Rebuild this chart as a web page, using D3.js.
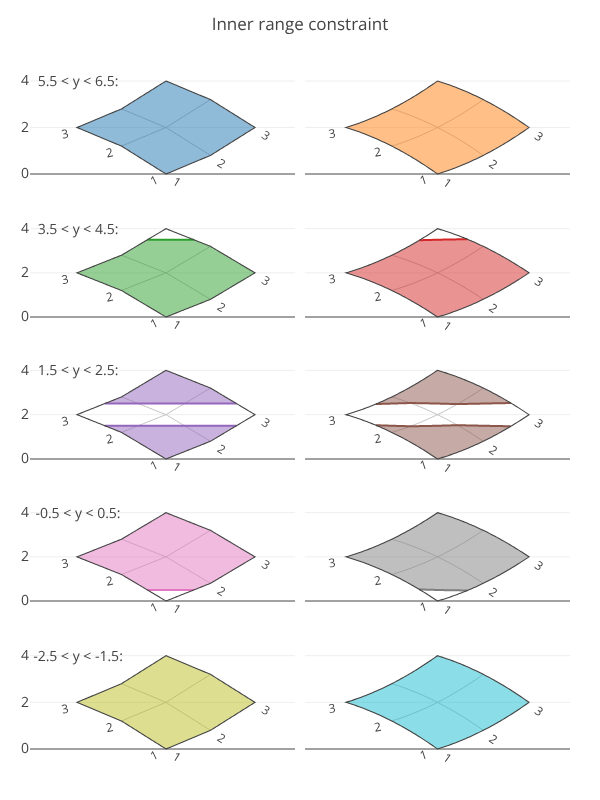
<!DOCTYPE html>
<html><head><meta charset="utf-8">
<script src="https://cdn.jsdelivr.net/npm/d3@7/dist/d3.min.js"></script>
<style>html,body{margin:0;padding:0;background:#fff}svg{display:block;will-change:transform}text{font-family:"Open Sans",sans-serif;fill:#444;text-rendering:geometricPrecision}</style>
</head><body><svg id="c" width="600" height="800"></svg>
<script>
const chartTitle = "Inner range constraint";
const aValues = [1, 2, 3];
const bValues = [1, 2, 3];
const xGrid = [[2, 3, 4], [1, 2, 3], [0, 1, 2]];
const yGrid = [[0, 0.8, 2], [1.2, 2, 3.2], [2, 2.8, 4]];
const zGrid = [[0, 0.8, 2], [1.2, 2, 3.2], [2, 2.8, 4]];
const rangeLow = [5.5, 3.5, 1.5, -0.5, -2.5];
const rangeHigh = [6.5, 4.5, 2.5, 0.5, -1.5];
const rowLabels = ["5.5 < y < 6.5:", "3.5 < y < 4.5:", "1.5 < y < 2.5:", "-0.5 < y < 0.5:", "-2.5 < y < -1.5:"];
const leftColors = ["#1f77b4", "#2ca02c", "#9467bd", "#e377c2", "#bcbd22"];
const rightColors = ["#ff7f0e", "#d62728", "#8c564b", "#7f7f7f", "#17becf"];
const yTicks = [0, 2, 4];

// layout
const rowY0 = [174, 317, 459, 601, 749];
const rowY4 = [81, 228.7, 370.3, 512.7, 655.7];
const cols = [
  {range: [30, 295], domain: [-1.056, 4.899], smooth: false,
   lab: {l: [-12, 6.5], r: [11, 8], rotL: [-25, -12, -12], rotR: 32}},
  {range: [305, 570], domain: [-0.896, 4.896], smooth: true,
   lab: {l: [-14, 6], r: [10, 9], rotL: [-18, -10, -8], rotR: 35}}
];

const svg = d3.select("#c");
svg.append("text").attr("x", 300).attr("y", 30).attr("text-anchor", "middle")
  .style("font-size", "17px").text(chartTitle);

const idx = d3.scaleLinear().domain(d3.extent(aValues)).range([0, aValues.length - 1]);

function bilinear(g, a, b) {
  const u = idx(a), v = idx(b);
  const i = Math.min(Math.floor(u), 1), j = Math.min(Math.floor(v), 1);
  const s = u - i, t = v - j;
  return (1 - t) * ((1 - s) * g[j][i] + s * g[j][i + 1]) + t * ((1 - s) * g[j + 1][i] + s * g[j + 1][i + 1]);
}
function lag(u) { return [(u - 1) * (u - 2) / 2, -u * (u - 2), u * (u - 1) / 2]; }
function biquad(g, a, b) {
  const L = lag(idx(a)), M = lag(idx(b));
  let r = 0;
  for (let j = 0; j < 3; j++) for (let i = 0; i < 3; i++) r += M[j] * L[i] * g[j][i];
  return r;
}

const n = 160, size = n + 1, step = 2 / n;
const contours = d3.contours().size([size, size]).smooth(true);
const toAB = c => Math.max(1, Math.min(3, 1 + (c - 0.5) * step));
const isInterior = c => c > 0.5 && c < size - 0.5;

function sampleZ(smooth) {
  const out = [];
  for (let j = 0; j < size; j++) for (let i = 0; i < size; i++) {
    const a = 1 + i * step, b = 1 + j * step;
    const linear = bilinear(zGrid, a, b);
    out.push(smooth ? (linear + biquad(zGrid, a, b)) / 2 : linear);
  }
  return out;
}

rowLabels.forEach((label, r) => {
  cols.forEach((col, ci) => {
    const color = (ci === 0 ? leftColors : rightColors)[r];
    const x = d3.scaleLinear().domain(col.domain).range(col.range);
    const y = d3.scaleLinear().domain([0, 4]).range([rowY0[r], rowY4[r]]);
    const map = col.smooth ? biquad : bilinear;
    const px = (a, b) => [x(map(xGrid, a, b)), y(map(yGrid, a, b))];
    const g = svg.append("g");
    const zValues = sampleZ(col.smooth);

    // y axis with grid
    const ax = g.append("g").attr("transform", `translate(${col.range[0]},0)`)
      .call(d3.axisLeft(y).tickValues(yTicks).tickSize(-(col.range[1] - col.range[0])).tickPadding(1).offset(0));
    ax.select(".domain").remove();
    ax.selectAll(".tick line").attr("stroke", d => d === 0 ? "#444" : "#eee").attr("stroke-width", 1);
    ax.selectAll(".tick text").style("font-size", "14px").style("font-family", '"Open Sans",sans-serif')
      .attr("fill", "#444").attr("text-anchor", "end").text(d => ci === 0 ? d : "");

    const line = d3.line();
    const sampled = d3.range(0, 61).map(k => 1 + k * 2 / 60);

    // carpet inner lines
    bValues.slice(1, -1).forEach(b => {
      g.append("path").attr("d", line(sampled.map(a => px(a, b)))).attr("fill", "none").attr("stroke", "#c0c0c0").attr("stroke-width", 1);
    });
    aValues.slice(1, -1).forEach(a => {
      g.append("path").attr("d", line(sampled.map(b => px(a, b)))).attr("fill", "none").attr("stroke", "#c0c0c0").attr("stroke-width", 1);
    });

    // filled regions outside the inner range: z >= high and z <= low
    const upper = contours.thresholds([rangeHigh[r]])(zValues)[0];
    const lower = contours.thresholds([-rangeLow[r]])(zValues.map(v => -v))[0];
    let fillD = "", lineD = "";
    [upper, lower].forEach(mp => {
      mp.coordinates.forEach(poly => poly.forEach(ring => {
        fillD += line(ring.map(p => px(toAB(p[0]), toAB(p[1])))) + "Z";
        let pen = false;
        for (let k = 1; k < ring.length; k++) {
          const p0 = ring[k - 1], p1 = ring[k];
          const i0 = isInterior(p0[0]) && isInterior(p0[1]);
          const i1 = isInterior(p1[0]) && isInterior(p1[1]);
          if (i0 || i1) {
            const q0 = px(toAB(p0[0]), toAB(p0[1])), q1 = px(toAB(p1[0]), toAB(p1[1]));
            if (!pen) lineD += `M${q0[0]},${q0[1]}`;
            lineD += `L${q1[0]},${q1[1]}`;
            pen = true;
          } else pen = false;
        }
      }));
    });
    g.append("path").attr("d", fillD).attr("fill", color).attr("fill-opacity", 0.5).attr("fill-rule", "evenodd").attr("stroke", "none");
    if (lineD) g.append("path").attr("d", lineD).attr("fill", "none").attr("stroke", color).attr("stroke-width", 2).attr("stroke-linejoin", "round");

    // carpet boundary
    const boundary = [
      ...sampled.map(a => px(a, 1)),
      ...sampled.map(b => px(3, b)),
      ...sampled.slice().reverse().map(a => px(a, 3)),
      ...sampled.slice().reverse().map(b => px(1, b))
    ];
    g.append("path").attr("d", line(boundary) + "Z").attr("fill", "none").attr("stroke", "#444").attr("stroke-width", 1.1);

    // carpet axis labels
    bValues.forEach((b, k) => {
      const p = px(1, b);
      g.append("text").attr("text-anchor", "middle").attr("dy", "0.35em")
        .attr("transform", `translate(${p[0] + col.lab.l[0]},${p[1] + col.lab.l[1]}) rotate(${col.lab.rotL[k]})`)
        .style("font-size", "12px").text(b);
    });
    aValues.forEach(a => {
      const p = px(a, 1);
      g.append("text").attr("text-anchor", "middle").attr("dy", "0.35em")
        .attr("transform", `translate(${p[0] + col.lab.r[0]},${p[1] + col.lab.r[1]}) rotate(${col.lab.rotR})`)
        .style("font-size", "12px").text(a);
    });

    if (ci === 0) {
      g.append("text").attr("x", 78).attr("y", y(4)).attr("dy", "0.35em").attr("text-anchor", "middle")
        .style("font-size", "14px").text(label);
    }
  });
});
</script></body></html>
